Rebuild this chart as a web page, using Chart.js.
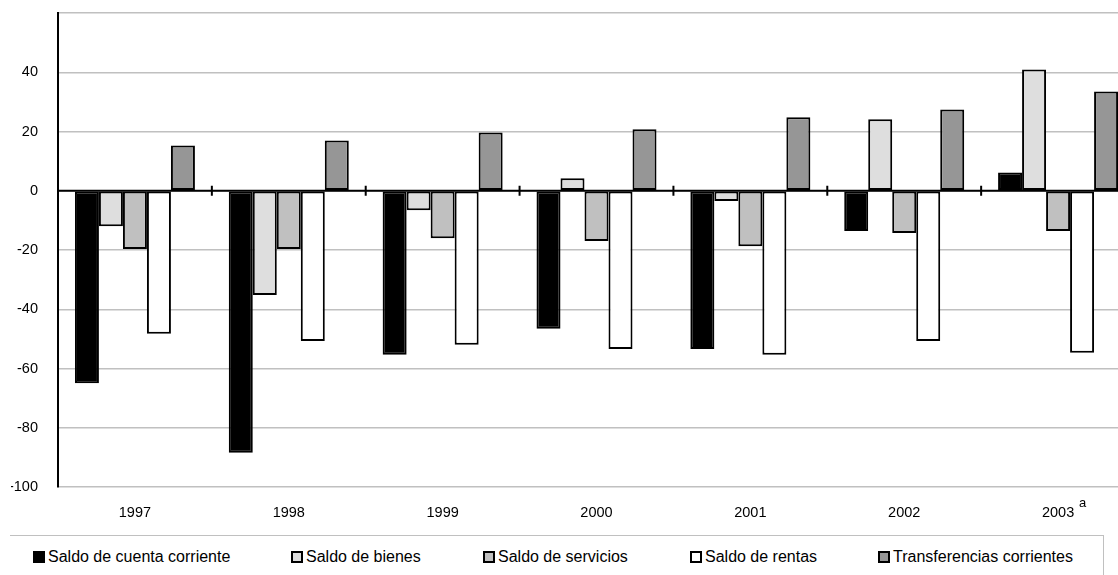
<!DOCTYPE html>
<html>
<head>
<meta charset="utf-8">
<script src="https://cdn.jsdelivr.net/npm/chart.js@4/dist/chart.umd.min.js"></script>
<style>
  html, body { margin: 0; padding: 0; background: #fff; overflow: hidden; width: 1118px; height: 575px; }
  #wrap { position: absolute; left: 0; top: 0; width: 1136px; height: 535px; }
  #legend { position: absolute; left: 10px; top: 535px; width: 1094px; height: 60px;
    border-top: 1px solid #c0c0c0; border-right: 1px solid #c0c0c0; box-sizing: border-box; }
  .lg-item { position: absolute; top: 12px; height: 18px; line-height: 18px; display: flex; align-items: center;
    font: 16px "Liberation Sans", Arial, sans-serif; color: #000; white-space: nowrap; }
  .lg-box { width: 12px; height: 12px; border: 2px solid #000; box-sizing: border-box; margin-right: 3px; }
</style>
</head>
<body>
<div id="wrap"><canvas id="chart"></canvas></div>
<div id="legend"></div>
<script>
const years = ["1997", "1998", "1999", "2000", "2001", "2002", "2003"];
const seriesNames = ["Saldo de cuenta corriente", "Saldo de bienes", "Saldo de servicios", "Saldo de rentas", "Transferencias corrientes"];

const cuentaCorriente = [-65, -88.4, -55.4, -46.6, -53.4, -13.6, 6.2];
const bienes          = [-12, -35.2, -6.6, 4.2, -3.5, 24.1, 40.9];
const servicios       = [-19.7, -19.7, -16, -17, -18.7, -14.3, -13.6];
const rentas          = [-48.3, -50.7, -52, -53.4, -55.4, -50.7, -54.7];
const transferencias  = [15.3, 17, 19.7, 20.8, 24.8, 27.4, 33.5];

const yTicks = [-100, -80, -60, -40, -20, 0, 20, 40];

const fills = ["#000000", "#dedede", "#c0c0c0", "#ffffff", "#969696"];
const legendLeft = [23, 281, 473, 680, 868];
const FONT = "'Liberation Sans', Arial, sans-serif";

const seriesData = [cuentaCorriente, bienes, servicios, rentas, transferencias];

// zero line with category tick marks, plus the "a" note on 2003
const zeroLine = {
  id: "zeroLine",
  afterDatasetsDraw(chart) {
    const { ctx, chartArea, scales: { x, y } } = chart;
    const y0 = y.getPixelForValue(0);
    ctx.save();
    ctx.strokeStyle = "#000";
    ctx.lineWidth = 2;
    ctx.beginPath();
    ctx.moveTo(chartArea.left, y0);
    ctx.lineTo(chartArea.right, y0);
    for (let i = 1; i < years.length; i++) {
      const bx = (x.getPixelForValue(i - 1) + x.getPixelForValue(i)) / 2;
      ctx.moveTo(bx, y0 - 5);
      ctx.lineTo(bx, y0 + 5);
    }
    ctx.stroke();

    const lx = x.getPixelForValue(years.length - 1);
    ctx.fillStyle = "#000";
    ctx.font = "13px " + FONT;
    ctx.textBaseline = "middle";
    ctx.fillText("a", lx + 21, chartArea.bottom + 16);
    ctx.restore();
  }
};

new Chart(document.getElementById("chart"), {
  type: "bar",
  data: {
    labels: years,
    datasets: seriesNames.map((name, i) => ({
      label: name,
      data: seriesData[i],
      backgroundColor: fills[i],
      borderColor: "#000",
      borderWidth: 2,
      borderSkipped: false,
      categoryPercentage: 0.78,
      barPercentage: 1,
    })),
  },
  options: {
    responsive: true, maintainAspectRatio: false, animation: false,
    layout: { padding: { left: 11, top: 13, right: 1, bottom: 0 } },
    plugins: { legend: { display: false }, tooltip: { enabled: false } },
    scales: {
      x: {
        grid: { display: false, drawTicks: false },
        border: { display: false },
        ticks: { padding: 17, color: "#000", font: { family: FONT, size: 14.5 } },
        afterFit: axis => { axis.height = 48; axis.paddingLeft = 0; axis.paddingRight = 0; },
      },
      y: {
        min: -100, max: 60,
        afterBuildTicks: axis => { axis.ticks = yTicks.concat([60]).map(v => ({ value: v })); },
        grid: { color: "#c0c0c0", lineWidth: 1.5, drawTicks: false },
        border: { color: "#000", width: 2 },
        ticks: {
          padding: 20, color: "#000", font: { family: FONT, size: 14.5 },
          callback: v => yTicks.includes(v) ? String(v) : "",
        },
        afterFit: axis => { axis.width = 47; axis.paddingTop = 0; axis.paddingBottom = 0; },
      },
    },
  },
  plugins: [zeroLine],
});

const legend = document.getElementById("legend");
seriesNames.forEach((name, i) => {
  const item = document.createElement("div");
  item.className = "lg-item";
  item.style.left = legendLeft[i] + "px";
  item.innerHTML = `<div class="lg-box" style="background:${fills[i]}"></div><span>${name}</span>`;
  legend.appendChild(item);
});
</script>
</body>
</html>
